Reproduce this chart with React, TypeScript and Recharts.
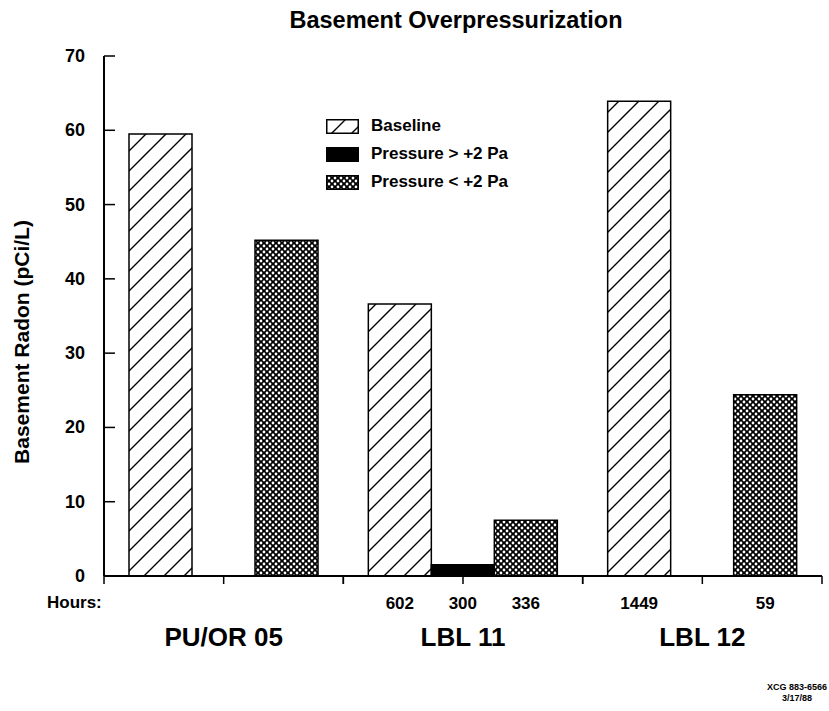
import React from "react";
import {
  BarChart,
  Bar,
  XAxis,
  YAxis,
  Legend,
  LabelList,
} from "recharts";

// Site groups along the x axis
const groups = ["PU/OR 05", "LBL 11", "LBL 12"];

// Basement radon (pCi/L) per condition
const baseline = [59.5, 36.6, 63.9];
const pressureAbove = [null, 1.5, null];
const pressureBelow = [45.2, 7.5, 24.4];

// Hours of measurement printed under each bar
const baselineHours = ["", "602", "1449"];
const aboveHours = ["", "300", ""];
const belowHours = ["", "336", "59"];

const yTicks = [0, 10, 20, 30, 40, 50, 60, 70];

const data = groups.map((name, i) => ({
  name,
  baseline: baseline[i],
  above: pressureAbove[i],
  below: pressureBelow[i],
  baselineHours: baselineHours[i],
  aboveHours: aboveHours[i],
  belowHours: belowHours[i],
}));

const FONT = '"Liberation Sans", Arial, Helvetica, sans-serif';

const WIDTH = 829;
const HEIGHT = 711;
const MARGIN = { top: 56, right: 7, bottom: 15, left: 44 };
const Y_AXIS_W = 60;
const PLOT_W = WIDTH - MARGIN.left - Y_AXIS_W - MARGIN.right;
const BAND = PLOT_W / groups.length;

const legendItems = [
  { label: "Baseline", fill: "url(#hatch)" },
  { label: "Pressure > +2 Pa", fill: "#000" },
  { label: "Pressure < +2 Pa", fill: "url(#cross)" },
];

function YTick(props: any) {
  const { x, y, payload } = props;
  return (
    <g>
      <line x1={x} x2={x + 11} y1={y} y2={y} stroke="#000" strokeWidth={1.5} />
      <text
        x={x - 19}
        y={y}
        dy={6}
        textAnchor="end"
        fontFamily={FONT}
        fontWeight="bold"
        fontSize={18}
        fill="#000"
      >
        {payload.value}
      </text>
    </g>
  );
}

function GroupTick(props: any) {
  const { x, y, payload } = props;
  const half = BAND / 2;
  return (
    <g>
      {[-half, 0, half].map((d) => (
        <line
          key={d}
          x1={x + d}
          x2={x + d}
          y1={y}
          y2={y + 8}
          stroke="#000"
          strokeWidth={1.5}
        />
      ))}
      <text
        x={x}
        y={y + 70}
        textAnchor="middle"
        fontFamily={FONT}
        fontWeight="bold"
        fontSize={26}
        fill="#000"
      >
        {payload.value}
      </text>
    </g>
  );
}

function HoursLabel(props: any) {
  const { x, y, width, height, value } = props;
  if (!value) return null;
  return (
    <text
      x={x + width / 2}
      y={y + height + 33}
      textAnchor="middle"
      fontFamily={FONT}
      fontWeight="bold"
      fontSize={17}
      fill="#000"
    >
      {value}
    </text>
  );
}

function LegendContent() {
  return (
    <div style={{ fontFamily: FONT, fontWeight: "bold", fontSize: 17 }}>
      {legendItems.map((it) => (
        <div
          key={it.label}
          style={{ display: "flex", alignItems: "center", height: 28 }}
        >
          <svg width={33} height={15}>
            <rect
              x={0.75}
              y={0.75}
              width={31.5}
              height={13.5}
              fill={it.fill}
              stroke="#000"
              strokeWidth={1.5}
            />
          </svg>
          <span style={{ marginLeft: 12 }}>{it.label}</span>
        </div>
      ))}
    </div>
  );
}

export default function App() {
  return (
    <div
      style={{
        position: "absolute",
        left: 0,
        top: 0,
        width: WIDTH,
        height: HEIGHT,
        background: "#fff",
      }}
    >
      <div
        style={{
          position: "absolute",
          left: 0,
          width: 912,
          top: 7,
          textAlign: "center",
          fontFamily: FONT,
          fontWeight: "bold",
          fontSize: 23.5,
        }}
      >
        Basement Overpressurization
      </div>

      <BarChart
        width={WIDTH}
        height={HEIGHT}
        data={data}
        margin={MARGIN}
        barSize={63}
        barGap={0}
      >
        <defs>
          <pattern
            id="hatch"
            patternUnits="userSpaceOnUse"
            width={20}
            height={20}
          >
            <rect width={20} height={20} fill="#fff" />
            <path
              d="M0,20 L20,0 M-5,5 L5,-5 M15,25 L25,15"
              stroke="#000"
              strokeWidth={1.4}
            />
          </pattern>
          <pattern
            id="cross"
            patternUnits="userSpaceOnUse"
            width={6}
            height={6}
          >
            <rect width={6} height={6} fill="#000" />
            <circle cx={0} cy={0} r={1.4} fill="#fff" />
            <circle cx={6} cy={0} r={1.4} fill="#fff" />
            <circle cx={0} cy={6} r={1.4} fill="#fff" />
            <circle cx={6} cy={6} r={1.4} fill="#fff" />
            <circle cx={3} cy={3} r={1.4} fill="#fff" />
          </pattern>
        </defs>

        <XAxis
          dataKey="name"
          height={120}
          axisLine={{ stroke: "#000", strokeWidth: 2 }}
          tickLine={false}
          tickSize={0}
          tickMargin={0}
          tick={<GroupTick />}
          interval={0}
        />
        <XAxis
          xAxisId="top"
          dataKey="name"
          orientation="top"
          height={0}
          tick={false}
          tickLine={false}
          axisLine={{ stroke: "#000", strokeWidth: 2 }}
        />
        <YAxis
          width={Y_AXIS_W}
          domain={[0, 70]}
          ticks={yTicks}
          interval={0}
          axisLine={{ stroke: "#000", strokeWidth: 2 }}
          tickLine={false}
          tickSize={0}
          tickMargin={0}
          tick={<YTick />}
          label={{
            content: () => (
              <text
                x={29}
                y={342}
                transform="rotate(-90 29 342)"
                textAnchor="middle"
                fontFamily={FONT}
                fontWeight="bold"
                fontSize={21}
                fill="#000"
              >
                Basement Radon (pCi/L)
              </text>
            ),
          }}
        />
        <YAxis
          yAxisId="right"
          orientation="right"
          width={0}
          domain={[0, 70]}
          tick={false}
          tickLine={false}
          axisLine={{ stroke: "#000", strokeWidth: 2 }}
        />

        <Legend
          layout="vertical"
          align="center"
          verticalAlign="middle"
          wrapperStyle={{ left: 326, top: 112, width: "auto" }}
          content={<LegendContent />}
        />

        <Bar
          dataKey="baseline"
          fill="url(#hatch)"
          stroke="#000"
          strokeWidth={1.5}
          isAnimationActive={false}
        >
          <LabelList dataKey="baselineHours" content={<HoursLabel />} />
        </Bar>
        <Bar
          dataKey="above"
          fill="#000"
          stroke="#000"
          strokeWidth={1.5}
          isAnimationActive={false}
        >
          <LabelList dataKey="aboveHours" content={<HoursLabel />} />
        </Bar>
        <Bar
          dataKey="below"
          fill="url(#cross)"
          stroke="#000"
          strokeWidth={1.5}
          isAnimationActive={false}
        >
          <LabelList dataKey="belowHours" content={<HoursLabel />} />
        </Bar>
      </BarChart>

      <div
        style={{
          position: "absolute",
          left: 47,
          top: 593,
          fontFamily: FONT,
          fontWeight: "bold",
          fontSize: 17,
        }}
      >
        Hours:
      </div>

      <div
        style={{
          position: "absolute",
          right: 2,
          top: 682,
          textAlign: "center",
          fontFamily: FONT,
          fontWeight: "bold",
          fontSize: 9,
          lineHeight: "11px",
        }}
      >
        XCG 883-6566
        <br />
        3/17/88
      </div>
    </div>
  );
}
